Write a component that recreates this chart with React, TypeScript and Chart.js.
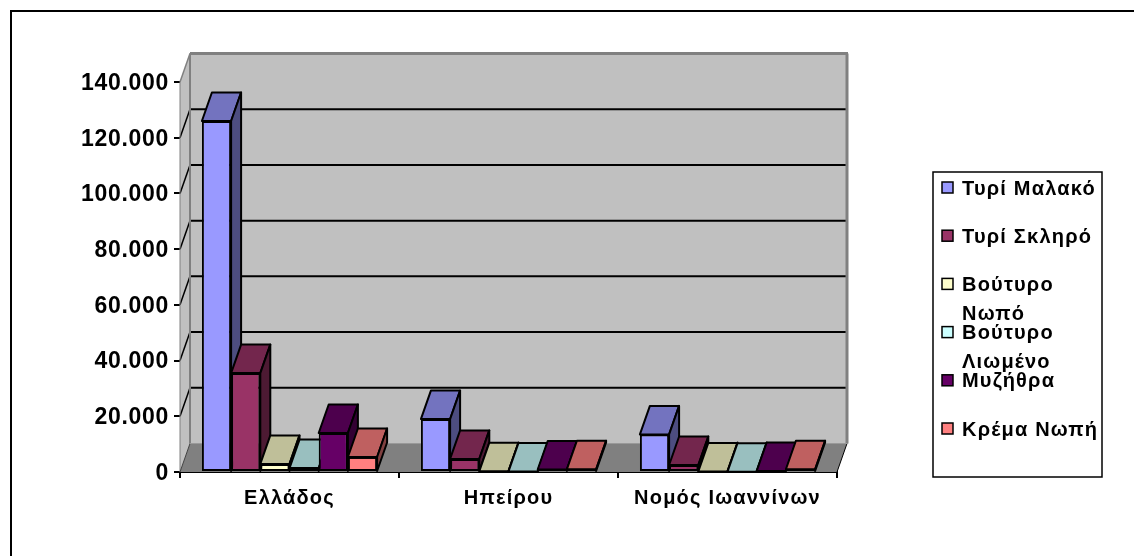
import React, { useEffect, useRef } from "react";
import { Chart, registerables } from "chart.js";

Chart.register(...registerables);

const categories = ["Ελλάδος", "Ηπείρου", "Νομός Ιωαννίνων"];
const seriesNames = ["Τυρί Μαλακό", "Τυρί Σκληρό", "Βούτυρο Νωπό", "Βούτυρο Λιωμένο", "Μυζήθρα", "Κρέμα Νωπή"];
const tyriMalako = [126000, 19000, 13500];
const tyriSkliro = [35500, 4700, 2500];
const voutyroNopo = [2900, 300, 200];
const voutyroLiomeno = [1400, 200, 100];
const myzithra = [14000, 900, 400];
const kremaNopi = [5400, 1000, 1000];
const seriesValues = [tyriMalako, tyriSkliro, voutyroNopo, voutyroLiomeno, myzithra, kremaNopi];
const seriesColors: [number, number, number][] = [
  [153, 153, 255],
  [153, 51, 102],
  [255, 255, 204],
  [204, 255, 255],
  [102, 0, 102],
  [255, 128, 128],
];

const DEPTH_X = 10;
const DEPTH_Y = 28.5;
const FONT = '"Liberation Sans", Arial, sans-serif';

const shade = (c: [number, number, number], k: number) =>
  `rgb(${Math.round(c[0] * k)},${Math.round(c[1] * k)},${Math.round(c[2] * k)})`;

const formatTick = (v: number) => String(v).replace(/\B(?=(\d{3})+(?!\d))/g, ".");

function poly(ctx: CanvasRenderingContext2D, pts: number[][], fill?: string, stroke?: string, lw = 1) {
  ctx.beginPath();
  pts.forEach((p, i) => (i ? ctx.lineTo(p[0], p[1]) : ctx.moveTo(p[0], p[1])));
  ctx.closePath();
  if (fill) {
    ctx.fillStyle = fill;
    ctx.fill();
  }
  if (stroke) {
    ctx.strokeStyle = stroke;
    ctx.lineWidth = lw;
    ctx.stroke();
  }
}

function line(ctx: CanvasRenderingContext2D, x0: number, y0: number, x1: number, y1: number, color: string, lw: number) {
  ctx.beginPath();
  ctx.moveTo(x0, y0);
  ctx.lineTo(x1, y1);
  ctx.strokeStyle = color;
  ctx.lineWidth = lw;
  ctx.stroke();
}

function spaced(scale: any, spacing: string, shiftY: number) {
  const original = scale.drawLabels;
  scale.drawLabels = function (area: any) {
    const c = this.ctx;
    c.save();
    c.letterSpacing = spacing;
    c.translate(0, shiftY);
    original.call(this, area);
    c.restore();
  };
}

const walls3d = {
  id: "walls3d",
  afterInit(chart: any) {
    chart.$spaced = false;
  },
  afterLayout(chart: any) {
    if (chart.$spaced) return;
    chart.$spaced = true;
    spaced(chart.scales.x, "1.2px", 0);
    spaced(chart.scales.y, "0.7px", 1.5);
  },
  beforeDraw(chart: any) {
    const { ctx } = chart;
    ctx.save();
    ctx.strokeStyle = "#000";
    ctx.lineWidth = 2;
    ctx.beginPath();
    ctx.moveTo(1136, 11);
    ctx.lineTo(11, 11);
    ctx.lineTo(11, 560);
    ctx.stroke();
    ctx.restore();
  },
  beforeDatasetsDraw(chart: any) {
    const { ctx, chartArea: a, scales } = chart;
    const dx = DEPTH_X;
    const dy = DEPTH_Y;
    const wall = "#c0c0c0";
    const edge = "#808080";
    ctx.save();
    poly(ctx, [[a.left + dx, a.top - dy], [a.right + dx, a.top - dy], [a.right + dx, a.bottom - dy], [a.left + dx, a.bottom - dy]], wall);
    poly(ctx, [[a.left, a.top], [a.left + dx, a.top - dy], [a.left + dx, a.bottom - dy], [a.left, a.bottom]], wall);
    poly(ctx, [[a.left, a.bottom], [a.right, a.bottom], [a.right + dx, a.bottom - dy], [a.left + dx, a.bottom - dy]], edge);
    scales.y.ticks.forEach((t: any) => {
      const y = scales.y.getPixelForValue(t.value);
      if (t.value === 0 || t.value === scales.y.max) return;
      line(ctx, a.left, y, a.left + dx, y - dy, "#000", 1.5);
      line(ctx, a.left + dx, y - dy, a.right + dx, y - dy, "#000", 2);
    });
    line(ctx, a.left + dx, a.top - dy, a.right + dx + 1, a.top - dy, edge, 3);
    line(ctx, a.left + dx, a.top - dy, a.left + dx, a.bottom - dy, edge, 2);
    line(ctx, a.right + dx, a.top - dy, a.right + dx, a.bottom - dy, edge, 3);
    line(ctx, a.left, a.top, a.left + dx, a.top - dy, edge, 1.5);
    line(ctx, a.left, a.top, a.left, a.bottom, edge, 1);
    line(ctx, a.left, a.bottom, a.left + dx, a.bottom - dy, "#404040", 1);
    line(ctx, a.right, a.bottom, a.right + dx, a.bottom - dy, "#000", 1);
    line(ctx, a.left + dx, a.bottom - dy, a.right + dx, a.bottom - dy, "#999", 1);
    ctx.restore();
  },
  beforeDatasetDraw() {
    return false;
  },
  afterDatasetsDraw(chart: any) {
    const { ctx } = chart;
    const dx = DEPTH_X;
    const dy = DEPTH_Y;
    chart.data.datasets.forEach((_: any, index: number) => {
      const meta = chart.getDatasetMeta(index);
      const color = seriesColors[index];
      meta.controller.draw();
      ctx.save();
      ctx.lineJoin = "round";
      meta.data.forEach((el: any) => {
        const { x, y, width, base } = el.getProps(["x", "y", "width", "base"], true);
        const l = x - width / 2;
        const r = x + width / 2;
        poly(ctx, [[l, y], [l + dx, y - dy], [r + dx, y - dy], [r, y]], shade(color, 0.75), "#000", 2);
        poly(ctx, [[r, y], [r + dx, y - dy], [r + dx, base - dy], [r, base]], shade(color, 0.5), "#000", 2);
      });
      ctx.restore();
    });
  },
  afterDraw(chart: any) {
    const { ctx } = chart;
    const boxLeft = 933;
    const boxRight = 1102;
    const boxTop = 172;
    const boxBottom = 477;
    const rowStart = 188;
    const rowStep = 48.2;
    ctx.save();
    ctx.strokeStyle = "#000";
    ctx.lineWidth = 1.5;
    ctx.strokeRect(boxLeft, boxTop, boxRight - boxLeft, boxBottom - boxTop);
    ctx.font = `bold 20px ${FONT}`;
    ctx.letterSpacing = "1.2px";
    ctx.textBaseline = "middle";
    ctx.textAlign = "left";
    chart.data.datasets.forEach((ds: any, i: number) => {
      const cy = rowStart + i * rowStep;
      ctx.fillStyle = ds.backgroundColor;
      ctx.fillRect(942, cy - 6, 11, 11);
      ctx.strokeStyle = "#000";
      ctx.lineWidth = 1.5;
      ctx.strokeRect(942, cy - 6, 11, 11);
      ctx.fillStyle = "#000";
      const lines = ctx.measureText(ds.label).width > boxRight - 962 ? ds.label.split(" ") : [ds.label];
      lines.forEach((t: string, k: number) => ctx.fillText(t, 962, cy + 1 + k * 29));
    });
    ctx.restore();
  },
};

export default function App() {
  const ref = useRef<HTMLCanvasElement | null>(null);
  useEffect(() => {
    if (!ref.current) return;
    const chart = new Chart(ref.current, {
      type: "bar",
      data: {
        labels: categories,
        datasets: seriesNames.map((label, i) => ({
          label,
          data: seriesValues[i],
          backgroundColor: shade(seriesColors[i], 1),
          borderColor: "#000",
          borderWidth: 2,
          borderSkipped: false,
          barPercentage: 1,
          categoryPercentage: 0.8,
        })),
      },
      options: {
        responsive: false,
        animation: false,
        layout: { padding: { left: 0, top: 82, right: 297, bottom: 0 } },
        plugins: { legend: { display: false }, tooltip: { enabled: false }, title: { display: false } },
        scales: {
          x: {
            grid: { drawOnChartArea: false, drawTicks: true, tickLength: 6, color: "#000", lineWidth: 2 },
            border: { color: "#000", width: 2 },
            ticks: {
              color: "#000",
              padding: 8,
              maxRotation: 0,
              font: { family: FONT, size: 20, weight: "bold" },
            },
            afterFit(scale: any) {
              scale.height = 84;
            },
          },
          y: {
            min: 0,
            max: 140000,
            grid: { drawOnChartArea: false, drawTicks: true, tickLength: 6, color: "#000", lineWidth: 2 },
            border: { display: false },
            ticks: {
              stepSize: 20000,
              color: "#000",
              padding: 5,
              font: { family: FONT, size: 23, weight: "bold" },
              callback: (v: any) => formatTick(Number(v)),
            },
            afterFit(scale: any) {
              scale.width = 180;
            },
          },
        },
      },
      plugins: [walls3d],
    } as any);
    return () => chart.destroy();
  }, []);
  return (
    <canvas
      ref={ref}
      width={1134}
      height={556}
      style={{ position: "absolute", left: 0, top: 0, display: "block", background: "#fff" }}
    />
  );
}
